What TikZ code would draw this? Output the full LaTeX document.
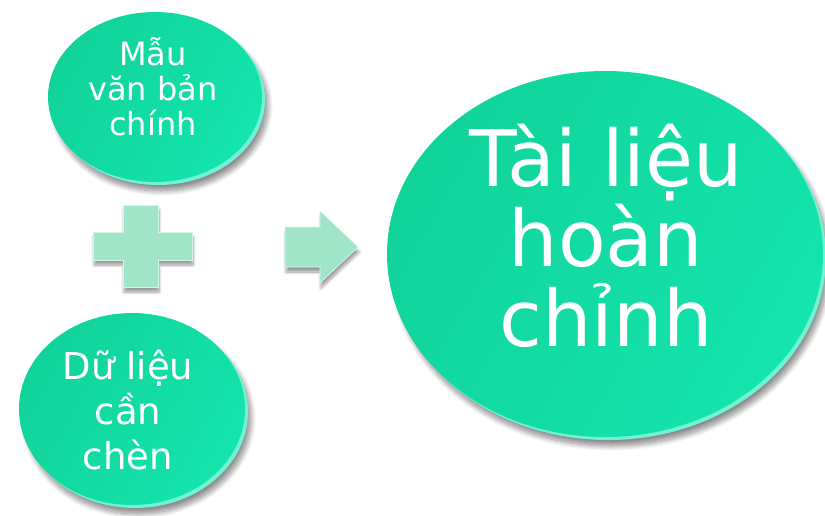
\documentclass[tikz,border=0pt]{standalone}
\usepackage{fontspec}
\setmainfont{DejaVu Sans}
\usetikzlibrary{shapes.geometric,shadows.blur}
\definecolor{discA}{HTML}{10D39A}
\definecolor{discB}{HTML}{14E4AD}
\definecolor{rimc}{HTML}{6FF2D6}
\definecolor{mint}{HTML}{A0E5C8}
\definecolor{mintedge}{HTML}{D2F6E8}
\begin{document}
\begin{tikzpicture}[x=1pt,y=-1pt,
  disc/.style={ellipse, inner sep=0pt, draw=none, left color=discA, right color=discB,
    shading angle=60},
  disctext/.style={text=white, align=center, inner sep=0pt},
  rimdisc/.style={fill=rimc, blur shadow={shadow xshift=3pt, shadow yshift=-6pt,
    shadow opacity=45, shadow blur radius=5pt, shadow blur steps=12}},
  symb/.style={fill=mint, draw=mintedge, line width=0.8pt, line join=miter,
    blur shadow={shadow xshift=1pt, shadow yshift=-5pt, shadow opacity=40,
    shadow blur radius=3pt, shadow blur steps=8}}]
\useasboundingbox (0,0) rectangle (825,515);
% top disc
\fill[rimdisc] (158,100) ellipse [x radius=107pt, y radius=85pt];
\node[disc, minimum width=214pt, minimum height=170pt] (mau) at (155,97) {};
\node[disctext, font=\fontsize{32}{35}\selectfont] (mautext) at (153,87) {Mẫu\\văn bản\\chính};
% bottom disc
\fill[rimdisc] (135,412) ellipse [x radius=113pt, y radius=96pt];
\node[disc, minimum width=226pt, minimum height=192pt] (du) at (132,409) {};
\node[disctext, font=\fontsize{37}{45}\selectfont] (dutext) at (128,410) {Dữ liệu\\cần\\chèn};
% big disc
\fill[rimdisc] (608,257) ellipse [x radius=218pt, y radius=183pt];
\node[disc, minimum width=436pt, minimum height=366pt] (tai) at (605,254) {};
\node[disctext, font=\fontsize{78}{80}\selectfont] (taitext) at (606,236) {Tài liệu\\hoàn\\chỉnh};
% plus sign
\draw[symb] (123,205) -- (158,205) -- (158,232) -- (192,232) -- (192,260)
  -- (158,260) -- (158,287) -- (123,287) -- (123,260) -- (93,260)
  -- (93,232) -- (123,232) -- cycle;
% arrow
\draw[symb] (285,227) -- (320,227) -- (320,211) -- (358,247) -- (320,283)
  -- (320,267) -- (285,267) -- cycle;
\end{tikzpicture}
\end{document}
